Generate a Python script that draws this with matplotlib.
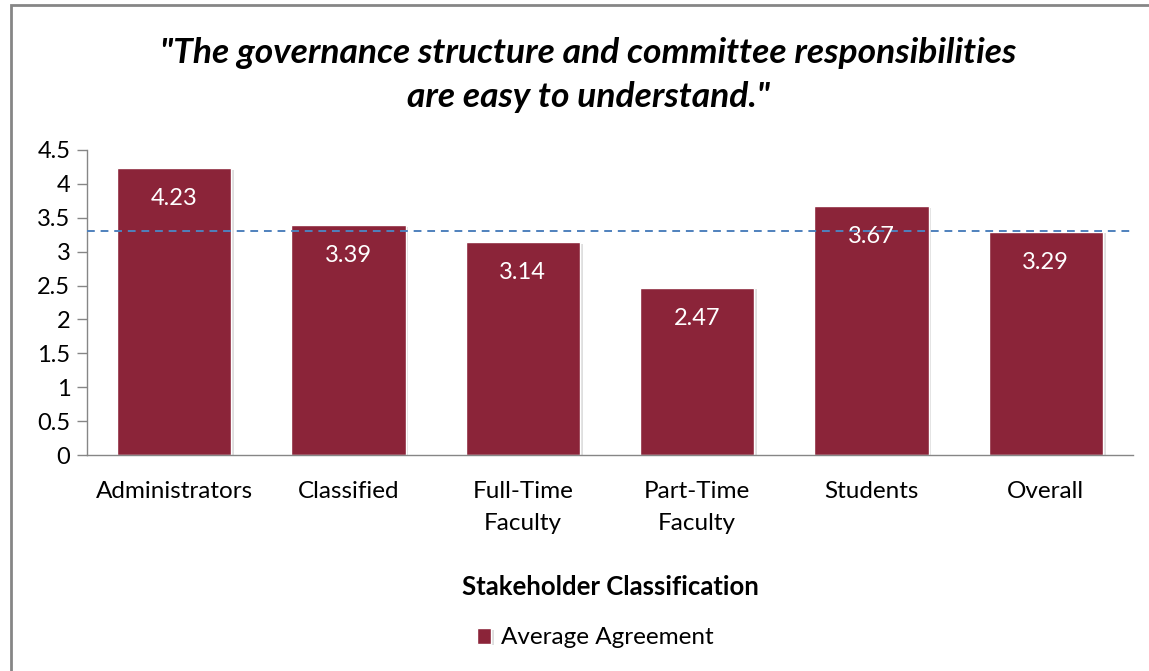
import matplotlib.pyplot as plt
import matplotlib.patheffects as pe
from matplotlib.patches import Rectangle
import numpy as np

categories = ["Administrators", "Classified", "Full-Time\nFaculty",
              "Part-Time\nFaculty", "Students", "Overall"]
scores = [4.23, 3.39, 3.14, 2.47, 3.67, 3.29]
reference_line = 3.31
series_name = "Average Agreement"
title = "\"The governance structure and committee responsibilities\nare easy to understand.\""

bar_color = "#8B2439"
plt.rcParams["font.family"] = ["Lato", "DejaVu Sans"]

fig = plt.figure(figsize=(11.49, 6.71), dpi=100)
W, H = 1149, 671
ax = fig.add_axes([87 / W, 1 - 455 / H, (1133 - 87) / W, (455 - 150) / H])

x = np.arange(len(categories))
bars = ax.bar(x, scores, width=0.655, color=bar_color, label=series_name,
              edgecolor="white", linewidth=1.0, zorder=2)
for b in bars:
    b.set_path_effects([pe.SimplePatchShadow(offset=(2, -1), shadow_rgbFace="#bfbfbf", alpha=0.5),
                        pe.Normal()])

for xi, v in zip(x, scores):
    ax.annotate(f"{v:.2f}", (xi, v), xytext=(0, -22), textcoords="offset points",
                ha="center", va="center", color="white", fontsize=17, zorder=4)

ax.axhline(reference_line, color="#4F81BD", linestyle=(0, (4, 3)), linewidth=1.4, zorder=3)

ax.set_xlim(-0.5, len(categories) - 0.5)
ax.set_ylim(0, 4.5)
ax.set_yticks(np.arange(0, 4.51, 0.5))
ax.set_yticklabels(["0", "0.5", "1", "1.5", "2", "2.5", "3", "3.5", "4", "4.5"])
ax.set_xticks(x)
ax.set_xticklabels(categories, fontsize=17.5, linespacing=1.6)
ax.tick_params(axis="y", labelsize=17, length=7, color="#868686", width=1, pad=5)
ax.tick_params(axis="x", length=0, pad=19)
for s in ["top", "right"]:
    ax.spines[s].set_visible(False)
for s in ["left", "bottom"]:
    ax.spines[s].set_color("#868686")
    ax.spines[s].set_linewidth(1)

ax.set_xlabel("Stakeholder Classification", fontsize=18.5, fontweight="bold", labelpad=30)

fig.text(588 / W, 1 - 75 / H, title, ha="center", va="center", fontsize=25.5,
         fontweight="bold", fontstyle="italic", linespacing=1.45)

ax.legend(loc="center", bbox_to_anchor=(595 / W, 1 - 638 / H), bbox_transform=fig.transFigure,
          frameon=False, fontsize=17.5, handlelength=0.6, handleheight=0.6, handletextpad=0.4)

fig.patches.append(Rectangle((11 / W, -0.1), 1.2, 1 - 5 / H + 0.1, transform=fig.transFigure,
                             fill=False, edgecolor="#868686", linewidth=2))

fig.savefig("out.png", dpi=100)
